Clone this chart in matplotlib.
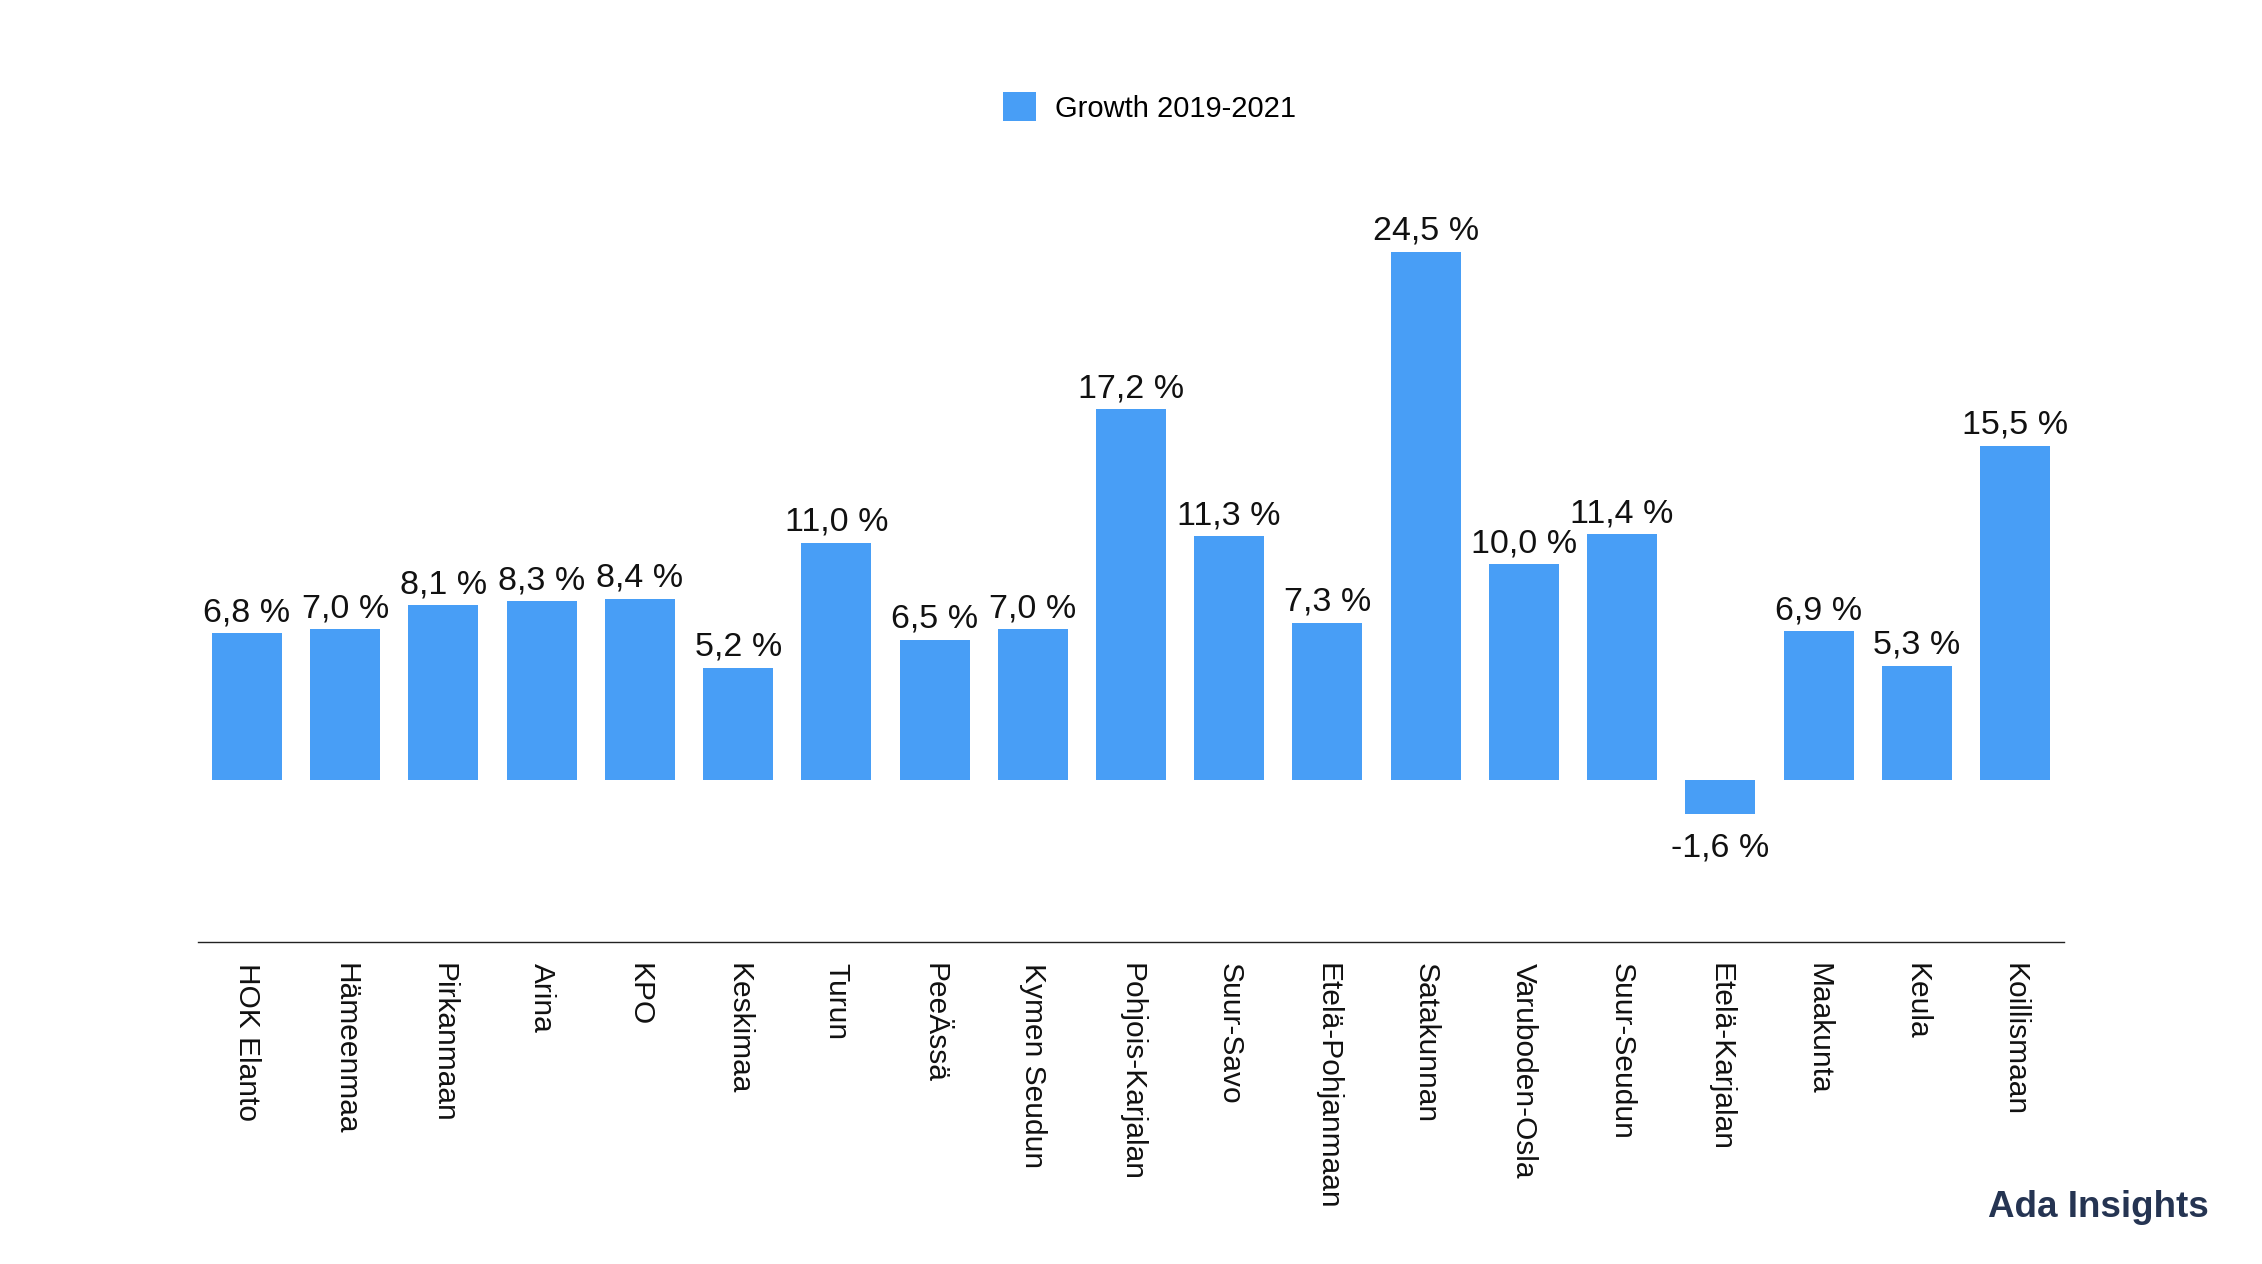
import matplotlib
matplotlib.use("Agg")
import matplotlib.pyplot as plt
import numpy as np

# data
regions = ["HOK Elanto", "Hämeenmaa", "Pirkanmaan", "Arina", "KPO", "Keskimaa",
           "Turun", "PeeÄssä", "Kymen Seudun", "Pohjois-Karjalan", "Suur-Savo",
           "Etelä-Pohjanmaan", "Satakunnan", "Varuboden-Osla", "Suur-Seudun",
           "Etelä-Karjalan", "Maakunta", "Keula", "Koillismaan"]
growth = [6.8, 7.0, 8.1, 8.3, 8.4, 5.2, 11.0, 6.5, 7.0, 17.2, 11.3, 7.3,
          24.5, 10.0, 11.4, -1.6, 6.9, 5.3, 15.5]
series_name = "Growth 2019-2021"

bar_color = "#489ef6"
plt.rcParams['font.family'] = ['Liberation Sans', 'DejaVu Sans']

fig = plt.figure(figsize=(22.62, 12.64), dpi=100)
ax = fig.add_axes([0.0875, 0.2547, 0.825, 0.65])

x = np.arange(len(regions))
bars = ax.bar(x, growth, width=0.713, color=bar_color, label=series_name)

# value labels
for xi, v in zip(x, growth):
    txt = f"{v:.1f}".replace(".", ",") + " %"
    off = 8.6 if v >= 0 else -30
    ax.annotate(txt, (xi, v), xytext=(0, off), textcoords="offset points",
                ha="center", va="baseline", fontsize=24.5, color="#111111")

ax.set_xlim(-0.5, len(regions) - 0.5)
ax.set_ylim(-7.52, 30.6)

ax.set_xticks(x)
ax.set_xticklabels(regions, rotation=270, fontsize=21.5, color="#111111")
ax.tick_params(axis="x", length=0, pad=15)
ax.set_yticks([])

for side in ["top", "right", "left"]:
    ax.spines[side].set_visible(False)
ax.spines["bottom"].set_linewidth(1.0)
ax.spines["bottom"].set_color("#222222")

fig.legend(handles=[bars], labels=[series_name], loc="center",
           bbox_to_anchor=(0.508, 0.915), frameon=False, fontsize=21,
           handlelength=1.13, handleheight=1.13, handletextpad=0.65)

fig.text(0.9766, 0.037, "Ada Insights", ha="right", va="baseline",
         fontsize=26.5, fontweight="bold", color="#253452")

fig.savefig("out.png", dpi=100)
